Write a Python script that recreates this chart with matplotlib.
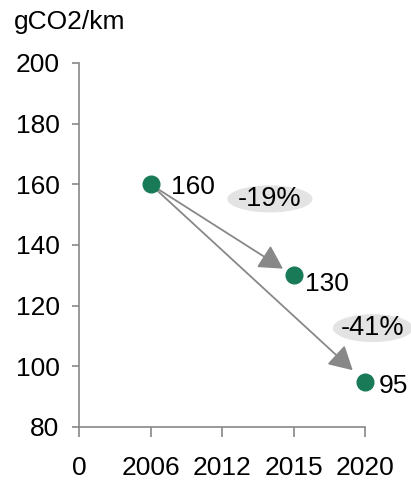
import matplotlib.pyplot as plt
from matplotlib.patches import Ellipse

plt.rcParams['font.family'] = ['Liberation Sans', 'DejaVu Sans']

# --- data ---
x_labels = ['0', '2006', '2012', '2015', '2020']
years = ['2006', '2015', '2020']
values = [160, 130, 95]
y_ticks = [80, 100, 120, 140, 160, 180, 200]

GREEN = '#187a56'
GREY = '#888888'
FS = 19

fig = plt.figure(figsize=(4.11, 4.82), dpi=100)
ax = fig.add_axes([79 / 411, 1 - 427 / 482, (365 - 79) / 411, (427 - 63) / 482])

xpos = [x_labels.index(y) for y in years]
ax.plot(xpos, values, 'o', color=GREEN, markersize=12, zorder=5, clip_on=False)

# value labels
offsets = [(15, -2), (8, -6), (10, -3)]
for x, v, off in zip(xpos, values, offsets):
    ax.annotate(str(v), (x, v), xytext=off, textcoords='offset points',
                ha='left', va='center', fontsize=FS)

# arrows from the first point to the others
shrinks = [(7, 9), (4, 12)]
for (sa, sb), x, v in zip(shrinks, xpos[1:], values[1:]):
    ax.annotate('', xy=(x, v), xytext=(xpos[0], values[0]),
                arrowprops=dict(arrowstyle='-|>,head_length=0.9,head_width=0.5',
                                color=GREY, lw=1.3, shrinkA=sa, shrinkB=sb,
                                mutation_scale=16),
                annotation_clip=False)

# percentage bubbles
pcts = [round((v - values[0]) / values[0] * 100) for v in values[1:]]
bubbles = [(2.67, 155.2, 1.19, 8.9), (4.11, 112.6, 1.12, 9.2)]
for p, (cx, cy, w, h) in zip(pcts, bubbles):
    ax.add_patch(Ellipse((cx, cy), w, h, facecolor='#e3e3e3', edgecolor='none',
                         clip_on=False, zorder=3))
    ax.text(cx, cy, f'{p}%', ha='center', va='center', fontsize=FS + 0.5, zorder=4)

ax.set_xlim(0, len(x_labels) - 1)
ax.set_ylim(80, 200)
ax.set_xticks(range(len(x_labels)))
ax.set_xticklabels(x_labels)
ax.set_yticks(y_ticks)

for s in ['top', 'right']:
    ax.spines[s].set_visible(False)
for s in ['left', 'bottom']:
    ax.spines[s].set_color(GREY)
    ax.spines[s].set_linewidth(1.2)
ax.tick_params(axis='y', colors=GREY, labelcolor='black', labelsize=FS,
               length=5, width=1.2, pad=9)
ax.tick_params(axis='x', colors=GREY, labelcolor='black', labelsize=FS,
               length=7, width=1.2, pad=14)

fig.text(14 / 411, 1 - 22 / 482, 'gCO2/km', ha='left', va='center', fontsize=FS)

fig.savefig('out.png', dpi=100)
